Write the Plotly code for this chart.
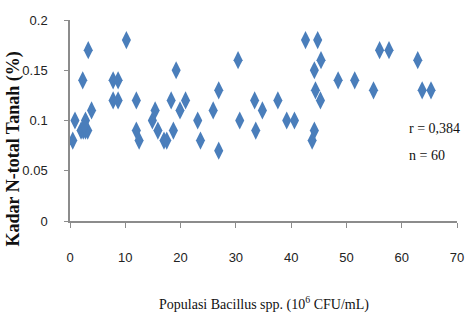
import plotly.graph_objects as go

populasi = [0.5, 0.9, 2.3, 3.3, 2.8, 2.0, 2.4, 2.8, 3.2, 2.6, 3.9,
            7.8, 8.7, 7.8, 8.7, 10.2, 12.0, 12.0, 12.5, 14.9, 15.4, 15.9,
            17.0, 17.5, 18.3, 18.7, 19.2, 19.9, 20.9, 23.1, 23.6, 25.9,
            26.9, 26.9, 30.4, 30.7, 33.4, 33.6, 34.8, 37.6, 39.2, 40.6,
            42.6, 44.8, 45.4, 44.2, 44.4, 45.3, 44.2, 43.8, 48.5, 51.5,
            54.9, 56.0, 57.7, 62.9, 63.7, 65.3]
kadar_n = [0.08, 0.10, 0.14, 0.17, 0.10, 0.09, 0.09, 0.09, 0.09, 0.095, 0.11,
           0.14, 0.14, 0.12, 0.12, 0.18, 0.12, 0.09, 0.08, 0.10, 0.11, 0.09,
           0.08, 0.08, 0.12, 0.09, 0.15, 0.11, 0.12, 0.10, 0.08, 0.11,
           0.13, 0.07, 0.16, 0.10, 0.12, 0.09, 0.11, 0.12, 0.10, 0.10,
           0.18, 0.18, 0.16, 0.15, 0.13, 0.12, 0.09, 0.08, 0.14, 0.14,
           0.13, 0.17, 0.17, 0.16, 0.13, 0.13]

x_ticks = [0, 10, 20, 30, 40, 50, 60, 70]
y_ticks = [0, 0.05, 0.1, 0.15, 0.2]
y_tick_labels = ["0", "0.05", "0.1", "0.15", "0.2"]
stat_lines = ["r = 0,384", "n = 60"]
stat_pos = [(60.9, 0.092), (60.9, 0.0655)]

fig = go.Figure()
fig.add_trace(go.Scatter(
    x=populasi, y=kadar_n, mode="markers",
    marker=dict(symbol="diamond-tall", size=13, color="#4A7EBB",
                line=dict(width=0)),
    showlegend=False))

for txt, (px, py) in zip(stat_lines, stat_pos):
    fig.add_annotation(x=px, y=py, text=txt, showarrow=False,
                       xanchor="left", yanchor="middle",
                       font=dict(family="Liberation Serif", size=14, color="#111"))

# axis titles as positioned annotations
fig.add_annotation(xref="paper", yref="paper", x=-0.145, y=0.36, textangle=-90,
                   text="<b>Kadar N-total Tanah (%)</b>", showarrow=False,
                   xanchor="center", yanchor="middle",
                   font=dict(family="Liberation Serif", size=18, color="#111"))
fig.add_annotation(xref="paper", yref="paper", x=0.5, y=-0.41,
                   text="Populasi Bacillus spp. (10<sup>6</sup> CFU/mL)", showarrow=False,
                   xanchor="center", yanchor="middle",
                   font=dict(family="Liberation Serif", size=14, color="#111"))

tick_font = dict(family="Liberation Sans Narrow, Arial Narrow, sans-serif", size=13, color="#222")
fig.update_layout(
    width=465, height=313,
    margin=dict(l=70, r=8, t=20, b=92),
    paper_bgcolor="white", plot_bgcolor="white",
    xaxis=dict(range=[0, 70], tickvals=x_ticks, showgrid=False, zeroline=False,
               automargin=False,
               showline=True, linecolor="#8c8c8c", linewidth=1.5,
               ticks="outside", ticklen=5, tickcolor="#8c8c8c",
               tickfont=tick_font, ticklabelstandoff=19),
    yaxis=dict(range=[0, 0.2], tickvals=y_ticks, ticktext=y_tick_labels,
               showgrid=False, zeroline=False, automargin=False,
               showline=True, linecolor="#8c8c8c", linewidth=1.5,
               ticks="outside", ticklen=4, tickcolor="#8c8c8c",
               tickfont=tick_font, ticklabelstandoff=14),
)

fig.write_html("out.html", config={"displayModeBar": False},
               post_script="document.body.style.margin='0';")
